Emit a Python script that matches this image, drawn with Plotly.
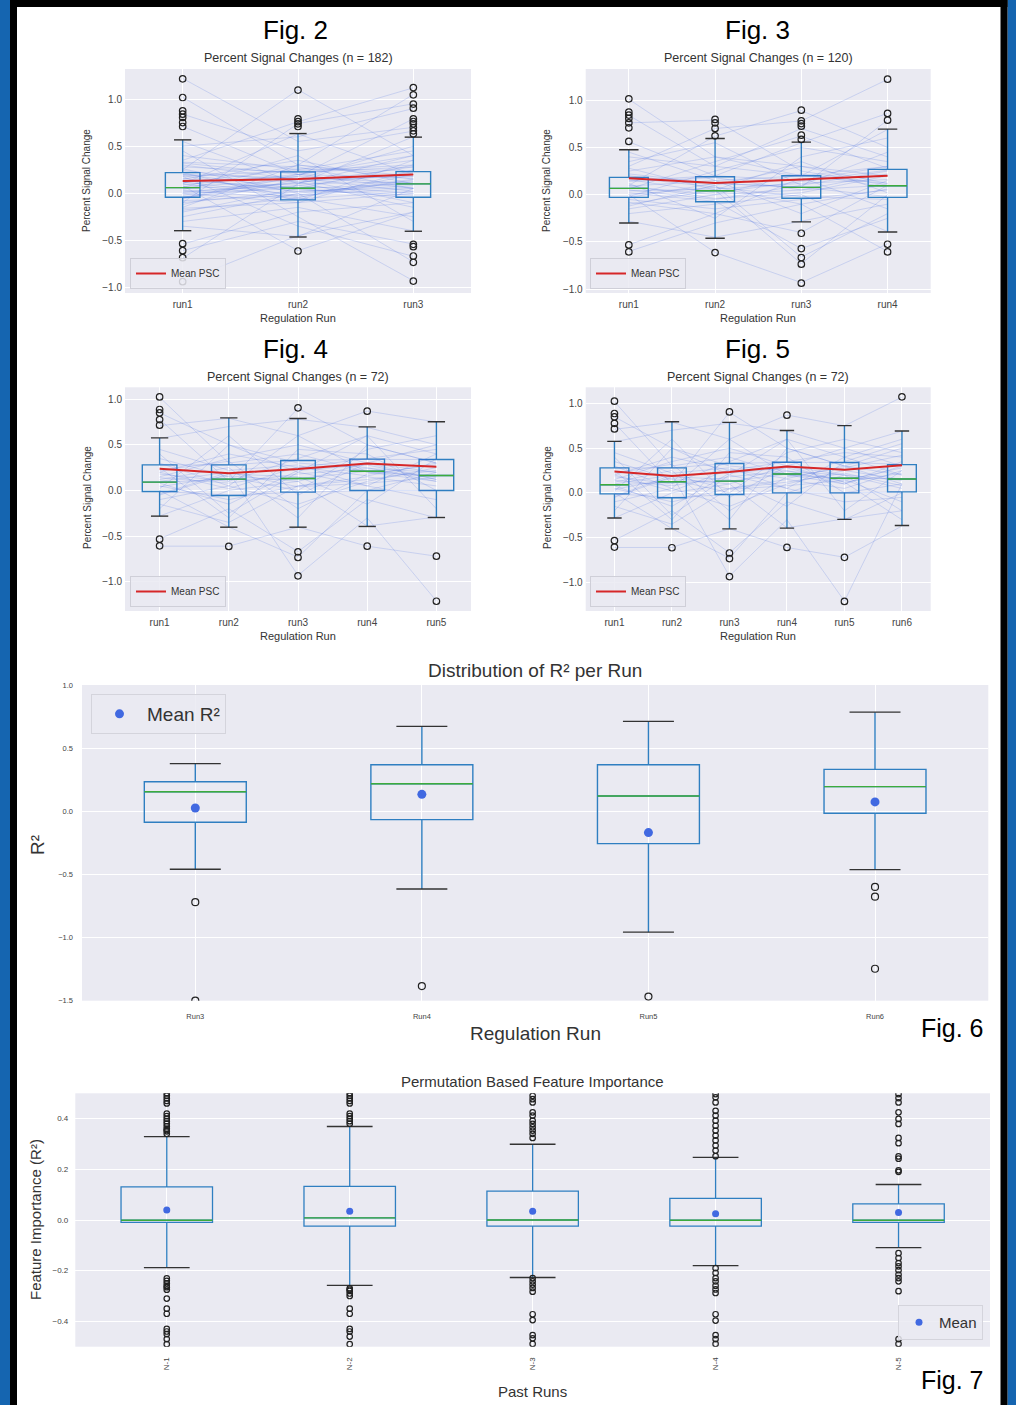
import plotly.graph_objects as go

W, H = 1016, 1405
FONT = "Liberation Sans, Arial, sans-serif"
BOXC = "#2f7fc1"
MEDC = "#3cab3c"
CAPC = "#333333"
MEANC = "#4169e1"
REDC = "#d62728"
SUBJC = "rgba(65,105,225,0.2)"
BG = "#eaeaf2"

# ---------------- Fig. 2 data (3 runs, n = 182) ----------------
f2_runs = ["run1", "run2", "run3"]
f2_q1 = [-0.043, -0.071, -0.043]
f2_med = [0.060, 0.053, 0.099]
f2_q3 = [0.219, 0.227, 0.230]
f2_lo = [-0.398, -0.465, -0.404]
f2_hi = [0.567, 0.634, 0.596]
f2_mean = [0.13, 0.15, 0.20]
f2_out = [
    [1.216, 1.017, 0.876, 0.84, 0.805, 0.751, 0.709, -0.536, -0.61, -0.685, -0.94],
    [1.096, 0.79, 0.76, 0.737, 0.709, -0.614],
    [1.123, 1.046, 0.947, 0.904, 0.79, 0.762, 0.737, 0.698, 0.663, 0.631,
     -0.543, -0.568, -0.667, -0.734, -0.933],
]
f2_subjects = [
    [0.05, 0.10, 0.12], [-0.20, 0.05, 0.30], [0.30, 0.15, -0.10], [0.10, -0.05, 0.20],
    [-0.05, 0.20, 0.05], [0.40, 0.25, 0.45], [-0.30, -0.15, -0.40], [0.15, 0.35, 0.10],
    [0.00, -0.10, 0.25], [0.20, 0.05, -0.05], [1.22, 0.55, 0.70], [1.02, 0.30, 0.15],
    [0.84, 0.45, 0.66], [0.71, 0.20, 0.35], [-0.54, -0.20, -0.10], [-0.61, -0.30, -0.54],
    [-0.69, 0.10, 0.40], [-0.94, -0.45, -0.20], [0.25, 1.10, 0.40], [0.35, 0.76, 1.12],
    [-0.10, 0.74, 0.95], [0.08, -0.61, -0.20], [0.45, -0.25, -0.93], [0.12, 0.18, 0.79],
    [-0.15, 0.30, 1.05], [0.18, -0.35, -0.67], [-0.25, 0.00, -0.73], [0.50, 0.60, 0.90],
    [0.02, 0.08, 0.00], [0.28, 0.22, 0.28], [-0.08, -0.02, 0.15], [0.06, 0.40, -0.30],
    [-0.35, -0.46, 0.05], [0.55, 0.10, 0.60], [0.10, 0.63, 0.20], [-0.02, 0.12, -0.15],
    [0.22, -0.08, 0.35], [0.33, 0.28, 0.05], [-0.12, 0.15, 0.50], [0.16, 0.02, 0.08],
    [0.04, 0.30, 0.18], [-0.18, -0.05, -0.25], [0.26, 0.00, 0.12], [0.09, 0.20, 0.40],
    [0.12, -0.02, 0.05], [-0.04, 0.08, 0.22], [0.20, 0.16, 0.02], [0.00, 0.05, 0.10],
    [0.07, 0.14, 0.18], [-0.10, 0.02, 0.06], [0.18, 0.24, 0.30], [0.03, -0.06, 0.02],
    [0.24, 0.12, 0.20], [-0.06, 0.18, 0.10], [0.14, 0.04, -0.02], [0.32, 0.20, 0.16],
    [-0.16, -0.10, 0.00], [0.11, 0.26, 0.24], [0.01, 0.11, 0.28], [0.19, -0.04, 0.14],
]

# ---------------- Fig. 3 data (4 runs, n = 120) ----------------
f3_runs = ["run1", "run2", "run3", "run4"]
f3_q1 = [-0.028, -0.074, -0.038, -0.028]
f3_med = [0.067, 0.042, 0.078, 0.095]
f3_q3 = [0.183, 0.190, 0.200, 0.268]
f3_lo = [-0.299, -0.460, -0.288, -0.394]
f3_hi = [0.475, 0.595, 0.556, 0.694]
f3_mean = [0.173, 0.123, 0.162, 0.200]
f3_out = [
    [1.014, 0.873, 0.842, 0.807, 0.76, 0.708, 0.564, -0.531, -0.605],
    [0.796, 0.76, 0.701, 0.623, -0.612],
    [0.894, 0.782, 0.753, 0.725, 0.63, 0.585, -0.408, -0.57, -0.665, -0.735, -0.936],
    [1.222, 0.86, 0.789, -0.524, -0.605],
]
f3_subjects = [
    [1.01, 0.40, 0.20, 0.30], [0.84, 0.30, 0.70, 0.40], [0.76, 0.79, 0.25, 0.10],
    [0.56, 0.20, 0.55, 0.86], [-0.53, -0.20, -0.40, 0.10], [-0.60, -0.30, -0.10, -0.60],
    [0.10, 0.62, 0.89, 0.50], [0.00, -0.61, -0.93, -0.52], [0.20, 0.10, -0.66, -0.20],
    [-0.10, 0.05, -0.73, 0.00], [0.30, 0.70, 0.78, 1.22], [0.05, -0.05, 0.10, 0.25],
    [0.15, 0.20, 0.15, 0.30], [-0.20, -0.10, 0.00, -0.39], [0.40, 0.30, 0.20, 0.69],
    [0.08, 0.00, 0.05, 0.10], [-0.05, -0.15, -0.05, 0.05], [0.25, 0.40, 0.30, 0.20],
    [0.12, -0.25, 0.40, 0.60], [-0.28, -0.45, -0.28, -0.10], [0.45, 0.15, -0.20, 0.15],
    [-0.02, 0.25, 0.50, 0.35], [0.18, 0.08, -0.02, -0.05], [0.35, 0.55, 0.10, 0.45],
    [-0.15, 0.00, 0.22, 0.08], [0.02, -0.07, -0.57, -0.25], [0.22, 0.12, 0.08, 0.79],
    [0.06, 0.35, 0.62, 0.28], [-0.08, -0.20, 0.18, -0.15], [0.28, 0.05, 0.35, 0.02],
    [0.14, 0.18, 0.05, 0.22], [-0.12, 0.10, 0.30, 0.12], [0.04, 0.06, 0.12, 0.16],
    [0.10, -0.04, 0.02, 0.20], [-0.03, 0.12, 0.08, -0.02], [0.16, 0.02, 0.14, 0.26],
    [0.00, 0.08, -0.10, 0.06], [0.09, 0.15, 0.20, 0.12],
]

# ---------------- Fig. 4 / Fig. 5 data (n = 72) ----------------
f5_runs = ["run1", "run2", "run3", "run4", "run5", "run6"]
f5_q1 = [-0.011, -0.055, -0.018, 0.000, 0.000, 0.011]
f5_med = [0.091, 0.124, 0.131, 0.211, 0.164, 0.156]
f5_q3 = [0.280, 0.280, 0.329, 0.343, 0.339, 0.316]
f5_lo = [-0.281, -0.402, -0.402, -0.394, -0.296, -0.365]
f5_hi = [0.576, 0.795, 0.788, 0.697, 0.752, 0.691]
f5_mean = [0.239, 0.190, 0.234, 0.296, 0.259, 0.309]
f5_out = [
    [1.025, 0.887, 0.85, 0.777, 0.715, -0.533, -0.606],
    [-0.613],
    [0.905, -0.672, -0.734, -0.935],
    [0.869, -0.61],
    [-0.72, -1.213],
    [1.074],
]
f5_subjects = [
    [1.02, 0.30, 0.40, 0.20, 0.10, 0.30], [0.85, 0.50, 0.20, 0.60, 0.40, 0.20],
    [0.78, 0.10, 0.90, 0.50, 0.30, 0.50], [0.71, 0.79, 0.60, 0.87, 0.75, 1.07],
    [-0.53, -0.20, -0.67, -0.10, -0.30, 0.00], [-0.61, -0.61, -0.40, -0.61, -0.72, -0.37],
    [0.10, 0.20, -0.93, -0.30, -1.21, 0.10], [0.00, -0.40, -0.73, 0.00, 0.20, -0.20],
    [0.28, 0.28, 0.33, 0.34, 0.34, 0.32], [0.09, 0.12, 0.13, 0.21, 0.16, 0.16],
    [-0.01, -0.05, -0.02, 0.00, 0.00, 0.01], [0.57, 0.70, 0.78, 0.69, 0.50, 0.69],
    [-0.28, 0.00, 0.10, -0.39, -0.29, -0.20], [0.20, 0.40, 0.25, 0.35, 0.45, 0.40],
    [0.05, -0.10, 0.05, 0.15, 0.05, 0.25], [0.15, 0.35, 0.50, 0.30, 0.20, 0.05],
    [-0.10, 0.05, -0.15, 0.10, 0.25, 0.15], [0.35, 0.15, 0.00, 0.45, 0.60, 0.45],
    [0.40, -0.25, 0.20, 0.05, -0.10, -0.05], [-0.20, 0.50, 0.30, 0.25, 0.10, 0.35],
    [0.12, 0.25, -0.30, 0.50, 0.30, 0.20], [0.25, -0.30, 0.45, 0.40, 0.00, 0.10],
    [-0.05, 0.18, 0.15, -0.15, 0.35, 0.55], [0.30, 0.05, 0.60, 0.20, 0.15, -0.10],
    [0.02, 0.60, -0.05, 0.30, 0.50, 0.30], [0.18, 0.10, 0.35, 0.60, -0.20, 0.25],
    [-0.15, -0.35, 0.05, 0.12, 0.22, 0.08], [0.45, 0.22, 0.28, 0.05, 0.40, 0.60],
    [0.08, -0.15, 0.22, 0.28, 0.12, -0.30], [0.22, 0.32, -0.20, 0.18, 0.28, 0.42],
    [0.14, 0.08, 0.18, 0.24, 0.20, 0.14], [0.04, 0.16, 0.10, 0.30, 0.12, 0.22],
    [0.20, 0.02, 0.26, 0.16, 0.30, 0.10], [-0.04, 0.20, 0.04, 0.08, 0.14, 0.28],
]
f4_n_runs = 5

# ---------------- Fig. 6 data (R² per run) ----------------
f6_runs = ["Run3", "Run4", "Run5", "Run6"]
f6_q1 = [-0.087, -0.066, -0.256, -0.016]
f6_med = [0.155, 0.218, 0.121, 0.195]
f6_q3 = [0.234, 0.369, 0.369, 0.332]
f6_lo = [-0.459, -0.615, -0.957, -0.462]
f6_hi = [0.377, 0.672, 0.712, 0.785]
f6_mean = [0.026, 0.134, -0.169, 0.074]
f6_out = [[-0.72, -1.50], [-1.384], [-1.467], [-0.599, -0.676, -1.247]]

# ---------------- Fig. 7 data (permutation feature importance) ----------------
f7_runs = ["N-1", "N-2", "N-3", "N-4", "N-5"]
f7_q1 = [-0.009, -0.024, -0.024, -0.024, -0.009]
f7_med = [-0.001, 0.008, 0.000, -0.001, -0.001]
f7_q3 = [0.131, 0.133, 0.114, 0.085, 0.064]
f7_lo = [-0.188, -0.258, -0.227, -0.180, -0.109]
f7_hi = [0.329, 0.369, 0.299, 0.247, 0.140]
f7_mean = [0.039, 0.035, 0.035, 0.025, 0.030]
f7_out = [
    [0.34, 0.35, 0.355, 0.36, 0.37, 0.38, 0.39, 0.40, 0.41, 0.42, 0.46, 0.47, 0.48, 0.49, 0.50,
     -0.23, -0.24, -0.25, -0.26, -0.265, -0.275, -0.31, -0.35, -0.37, -0.43, -0.44, -0.45, -0.47, -0.49],
    [0.38, 0.39, 0.40, 0.41, 0.42, 0.46, 0.47, 0.48, 0.49, 0.50,
     -0.27, -0.275, -0.28, -0.29, -0.30, -0.35, -0.37, -0.43, -0.44, -0.46, -0.49],
    [0.324, 0.34, 0.353, 0.366, 0.379, 0.392, 0.412, 0.425, 0.464, 0.477, 0.49,
     -0.229, -0.242, -0.255, -0.268, -0.283, -0.372, -0.395, -0.454, -0.467, -0.489],
    [0.252, 0.274, 0.294, 0.314, 0.333, 0.353, 0.372, 0.392, 0.412, 0.431, 0.464, 0.484, 0.497,
     -0.19, -0.209, -0.229, -0.242, -0.259, -0.274, -0.288, -0.372, -0.397, -0.454, -0.47, -0.489],
    [0.19, 0.196, 0.242, 0.251, 0.303, 0.324, 0.379, 0.399, 0.425, 0.464, 0.481, 0.497,
     -0.131, -0.15, -0.17, -0.183, -0.198, -0.215, -0.229, -0.242, -0.281, -0.47, -0.489],
]


def px(x):
    return x / W


def py(y):
    return 1 - y / H


fig = go.Figure()


def add_boxes(ax, cats, q1, med, q3, lo, hi, outs, bw, lw=1.4, osize=6.5):
    xa, ya = "x" + ax, "y" + ax
    pos = list(range(1, len(cats) + 1))
    fig.add_trace(go.Box(
        x=pos, q1=q1, median=med, q3=q3, lowerfence=lo, upperfence=hi,
        width=bw, whiskerwidth=0, boxpoints=False,
        line=dict(color=BOXC, width=lw), fillcolor="rgba(0,0,0,0)",
        xaxis=xa, yaxis=ya, showlegend=False, hoverinfo="skip"))
    mx, my, cx, cy = [], [], [], []
    for p, m, l, h in zip(pos, med, lo, hi):
        mx += [p - bw / 2, p + bw / 2, None]
        my += [m, m, None]
        cx += [p - bw / 4, p + bw / 4, None, p - bw / 4, p + bw / 4, None]
        cy += [h, h, None, l, l, None]
    fig.add_trace(go.Scatter(x=cx, y=cy, mode="lines", line=dict(color=CAPC, width=lw),
                             xaxis=xa, yaxis=ya, showlegend=False, hoverinfo="skip"))
    fig.add_trace(go.Scatter(x=mx, y=my, mode="lines", line=dict(color=MEDC, width=lw),
                             xaxis=xa, yaxis=ya, showlegend=False, hoverinfo="skip"))
    ox, oy = [], []
    for p, o in zip(pos, outs):
        ox += [p] * len(o)
        oy += o
    fig.add_trace(go.Scatter(x=ox, y=oy, mode="markers",
                             marker=dict(symbol="circle-open", size=osize, color="#222",
                                         line=dict(width=1.2)),
                             xaxis=xa, yaxis=ya, showlegend=False, hoverinfo="skip"))


def psc_panel(ax, legend, cats, subjects, q1, med, q3, lo, hi, outs, mean, bw):
    xa, ya = "x" + ax, "y" + ax
    pos = list(range(1, len(cats) + 1))
    for s in subjects:
        fig.add_trace(go.Scatter(x=pos, y=s[:len(cats)], mode="lines",
                                 line=dict(color=SUBJC, width=1),
                                 xaxis=xa, yaxis=ya, showlegend=False, hoverinfo="skip"))
    add_boxes(ax, cats, q1, med, q3, lo, hi, outs, bw)
    fig.add_trace(go.Scatter(x=pos, y=mean, mode="lines", name="Mean PSC",
                             line=dict(color=REDC, width=2),
                             xaxis=xa, yaxis=ya, legend=legend))


psc_panel("", "legend", f2_runs, f2_subjects, f2_q1, f2_med, f2_q3, f2_lo, f2_hi, f2_out, f2_mean, 0.30)
psc_panel("2", "legend2", f3_runs, f3_subjects, f3_q1, f3_med, f3_q3, f3_lo, f3_hi, f3_out, f3_mean, 0.45)
n4 = f4_n_runs
psc_panel("3", "legend3", f5_runs[:n4], f5_subjects, f5_q1[:n4], f5_med[:n4], f5_q3[:n4],
          f5_lo[:n4], f5_hi[:n4], f5_out[:n4], f5_mean[:n4], 0.5)
psc_panel("4", "legend4", f5_runs, f5_subjects, f5_q1, f5_med, f5_q3, f5_lo, f5_hi, f5_out, f5_mean, 0.5)

# Fig 6
add_boxes("5", f6_runs, f6_q1, f6_med, f6_q3, f6_lo, f6_hi, f6_out, 0.45, lw=1.4, osize=7)
fig.add_trace(go.Scatter(x=list(range(1, 5)), y=f6_mean, mode="markers", name="Mean R²",
                         marker=dict(color=MEANC, size=9), xaxis="x5", yaxis="y5", legend="legend5"))

# Fig 7
add_boxes("6", f7_runs, f7_q1, f7_med, f7_q3, f7_lo, f7_hi, f7_out, 0.5, lw=1.3, osize=5.5)
fig.add_trace(go.Scatter(x=list(range(1, 6)), y=f7_mean, mode="markers", name="Mean",
                         marker=dict(color=MEANC, size=7), xaxis="x6", yaxis="y6", legend="legend6"))

# ---------------- axes ----------------
panels = {
    # key: (x0, x1, y_top, y_bottom, cats, yrange, ytickvals, font, x standoff, y standoff)
    "": (125, 471, 69, 293, f2_runs, [-1.06, 1.32], [-1, -0.5, 0, 0.5, 1], 10, 4, 2),
    "2": (585.7, 930.7, 69, 293, f3_runs, [-1.04, 1.33], [-1, -0.5, 0, 0.5, 1], 10, 4, 2),
    "3": (125, 471, 387.3, 611, f5_runs[:n4], [-1.32, 1.13], [-1, -0.5, 0, 0.5, 1], 10, 4, 2),
    "4": (585.7, 930.7, 387.3, 611, f5_runs, [-1.32, 1.18], [-1, -0.5, 0, 0.5, 1], 10, 4, 2),
    "5": (82, 988.3, 685, 1000.7, f6_runs, [-1.5, 1.0], [-1.5, -1, -0.5, 0, 0.5, 1], 7.5, 10, 8),
    "6": (75.3, 990, 1093.3, 1346.7, f7_runs, [-0.5, 0.5], [-0.4, -0.2, 0, 0.2, 0.4], 8, 8, 6),
}
layout = dict(
    width=W, height=H, margin=dict(l=0, r=0, t=0, b=0),
    paper_bgcolor="white", plot_bgcolor=BG, showlegend=True,
    font=dict(family=FONT, color="#333"),
)
for k, (x0, x1, yt, yb, cats, yr, ytv, tf, xso, yso) in panels.items():
    xa = dict(domain=[px(x0), px(x1)], anchor="y" + k, range=[0.5, len(cats) + 0.5],
              tickvals=list(range(1, len(cats) + 1)), ticktext=cats,
              showgrid=True, gridcolor="white", gridwidth=1, zeroline=False,
              showline=False, ticks="", automargin=False, ticklabelstandoff=xso,
              tickfont=dict(size=tf, color="#444", family=FONT))
    ya = dict(domain=[py(yb), py(yt)], anchor="x" + k, range=yr, tickvals=ytv,
              tickformat=".1f", showgrid=True, gridcolor="white", gridwidth=1,
              zeroline=False, showline=False, ticks="", automargin=False,
              ticklabelstandoff=yso,
              tickfont=dict(size=tf, color="#444", family=FONT))
    if k == "6":
        xa["tickangle"] = -90
    layout["xaxis" + k] = xa
    layout["yaxis" + k] = ya


def leg(x, ybot, size):
    return dict(x=px(x), y=py(ybot), xanchor="left", yanchor="bottom",
                bgcolor="rgba(234,234,242,0.85)", bordercolor="#cfcfd8", borderwidth=1,
                itemwidth=30, font=dict(size=size, color="#333", family=FONT))


layout["legend"] = leg(130, 289, 10)
layout["legend2"] = leg(590, 289, 10)
layout["legend3"] = leg(130, 607, 10)
layout["legend4"] = leg(590, 607, 10)
layout["legend5"] = dict(x=px(91), y=py(694), xanchor="left", yanchor="top",
                         bgcolor="rgba(234,234,242,0.85)", bordercolor="#d4d4dc", borderwidth=1,
                         itemwidth=45, font=dict(size=19, color="#333", family=FONT))
layout["legend6"] = dict(x=px(983), y=py(1340), xanchor="right", yanchor="bottom",
                         bgcolor="rgba(234,234,242,0.85)", bordercolor="#d4d4dc", borderwidth=1,
                         font=dict(size=15, color="#333", family=FONT))

fig.update_layout(**layout)


def txt(x, y, s, size, color="#333", angle=0):
    fig.add_annotation(x=px(x), y=py(y), xref="paper", yref="paper", text=s,
                       showarrow=False, xanchor="center", yanchor="middle", textangle=angle,
                       font=dict(size=size, color=color, family=FONT))


# figure labels
txt(295, 30, "Fig. 2", 26, "#000")
txt(757, 30, "Fig. 3", 26, "#000")
txt(295, 349, "Fig. 4", 26, "#000")
txt(757, 349, "Fig. 5", 26, "#000")
txt(952, 1028, "Fig. 6", 25, "#000")
txt(952, 1380, "Fig. 7", 25, "#000")
# panel titles
txt(298, 58, "Percent Signal Changes (n = 182)", 12.5)
txt(758, 58, "Percent Signal Changes (n = 120)", 12.5)
txt(298, 377, "Percent Signal Changes (n = 72)", 12.5)
txt(758, 377, "Percent Signal Changes (n = 72)", 12.5)
txt(535, 670, "Distribution of R² per Run", 19)
txt(532, 1081, "Permutation Based Feature Importance", 15)
# axis titles
for (xx, yy) in [(298, 318), (758, 318), (298, 636), (758, 636)]:
    txt(xx, yy, "Regulation Run", 11)
for (xx, yy) in [(87, 181), (547, 181), (87, 498), (547, 498)]:
    txt(xx, yy, "Percent Signal Change", 10, angle=-90)
txt(535, 1033, "Regulation Run", 19)
txt(38, 845, "R²", 19, angle=-90)
txt(532, 1391, "Past Runs", 15)
txt(35, 1220, "Feature Importance (R²)", 15, angle=-90)

# frame (blue outer band, black border)
frame = [
    (0, 0, 10, H, "#1565b0"), (1007.5, 0, W, H, "#1565b0"),
    (10, 0, 1007.5, 7, "#000"), (10, 0, 17, H, "#000"), (1000.5, 0, 1007.5, H, "#000"),
]
for x0, y0, x1, y1, c in frame:
    fig.add_shape(type="rect", xref="paper", yref="paper", x0=px(x0), x1=px(x1),
                  y0=py(y1), y1=py(y0), fillcolor=c, line=dict(width=0), layer="above")

fig.write_html("out.html", config={"displayModeBar": False},
               post_script="document.body.style.margin='0';document.body.style.overflow='hidden';")
